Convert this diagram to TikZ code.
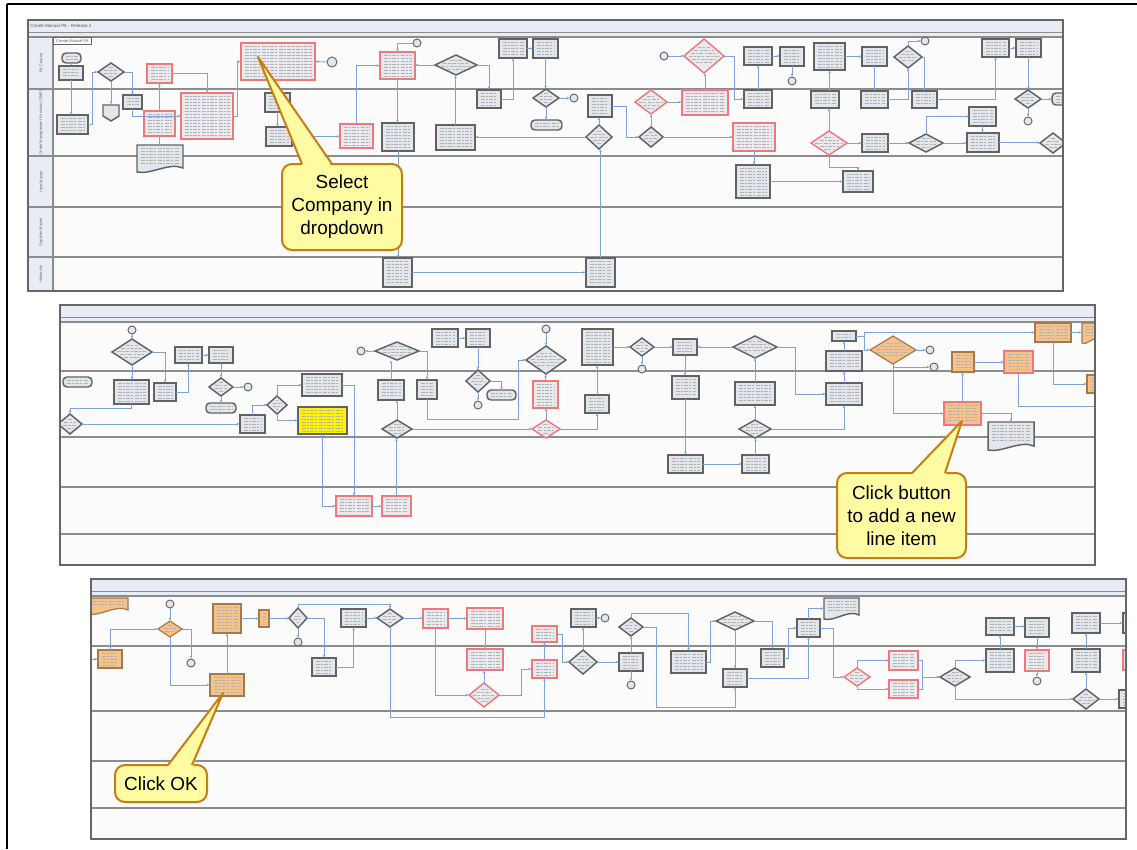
\documentclass[tikz,border=0pt]{standalone}
\usepackage{fontspec}
\setmainfont{Liberation Sans}
\usetikzlibrary{shapes.geometric,arrows.meta,calc}
\definecolor{boxfill}{HTML}{E3E6ED}
\definecolor{boxdraw}{HTML}{626262}
\definecolor{redd}{HTML}{F07878}
\definecolor{redfill}{HTML}{E9EAF0}
\definecolor{orfill}{HTML}{F5C28C}
\definecolor{ordraw}{HTML}{A87848}
\definecolor{connc}{HTML}{7FA2DA}
\definecolor{lanec}{HTML}{8C8C8C}
\definecolor{panelbg}{HTML}{FBFBFB}
\definecolor{titlebg}{HTML}{E7ECF5}
\definecolor{calfill}{HTML}{FFFBA3}
\definecolor{caldraw}{HTML}{C77D12}
\tikzset{
  pbox/.style={draw=boxdraw, fill=boxfill, line width=1.1pt, inner sep=0pt, outer sep=0pt},
  rbox/.style={draw=redd, fill=redfill, line width=1.1pt, inner sep=0pt, outer sep=0pt},
  obox/.style={draw=ordraw, fill=orfill, line width=0.9pt, inner sep=0pt, outer sep=0pt},
  orbox/.style={draw=redd, fill=orfill, line width=1pt, inner sep=0pt, outer sep=0pt},
  ybox/.style={draw=boxdraw, fill=yellow, line width=0.9pt, inner sep=0pt, outer sep=0pt},
  tmbox/.style={pbox, rounded corners=3pt},
  circ/.style={circle, draw=boxdraw, fill=boxfill, line width=0.7pt, inner sep=0pt, outer sep=0pt},
  txl/.style={black!30, line width=0.4pt, dash pattern=on 3pt off 0.9pt on 1.6pt off 0.9pt},
  conn/.style={draw=connc, line width=0.65pt, -{Latex[length=2.4pt,width=2pt]}},
  connp/.style={draw=connc, line width=0.65pt},
  lanel/.style={lanec, line width=1.2pt},
  paneledge/.style={draw=black!60, line width=0.9pt},
  lanelbl/.style={rotate=90, font=\fontsize{3}{3.6}\selectfont, text=black!60, inner sep=0pt},
  caltext/.style={align=center, font=\fontsize{14.2}{17.3}\selectfont, inner sep=0pt, text=black},
  calbox/.style={draw=caldraw, fill=calfill, line width=1.5pt, rounded corners=7.5pt},
}
\newcommand\BX[6]{%
  \node[#6, minimum width={(#4-#2)*0.75pt}, minimum height={(#5-#3)*0.75pt}] (#1) at ({(#2+#4)/2},{(#3+#5)/2}) {};
  \pgfmathsetmacro\tya{#3+3.5}\pgfmathsetmacro\tyb{#3+6.5}\pgfmathsetmacro\tyc{#5-2.5}%
  \foreach \yy in {\tya,\tyb,...,\tyc}{\draw[txl] ({#2+3.5},\yy) -- ({#4-3.5},\yy);}%
}
\newcommand\DM[6]{%
  \node[#6, diamond, minimum width={2*#4*0.75pt}, minimum height={2*#5*0.75pt}] (#1) at (#2,#3) {};
  \pgfmathsetmacro\tda{-0.5*#5}\pgfmathsetmacro\tdb{\tda+3}\pgfmathsetmacro\tdc{0.5*#5+0.1}%
  \foreach \dd in {\tda,\tdb,...,\tdc}{\pgfmathsetmacro\tdhl{#4*(1-abs(\dd)/#5)-4}\draw[txl] ({#2-\tdhl},{#3+\dd}) -- ({#2+\tdhl},{#3+\dd});}%
}
\newcommand\CI[4]{\node[circ, minimum size={2*#4*0.75pt}] (#1) at (#2,#3) {};}
\newcommand\DOC[6]{%
  \node[inner sep=0pt, outer sep=0pt, minimum width={(#4-#2)*0.75pt}, minimum height={(#5-#3)*0.75pt}] (#1) at ({(#2+#4)/2},{(#3+#5)/2}) {};
  \draw[#6] (#2,#3) -- (#4,#3) -- ({#4},{#5-4}) .. controls ({#2+0.7*(#4-#2)},{#5-10}) and ({#2+0.3*(#4-#2)},{#5+3}) .. (#2,#5) -- cycle;
  \pgfmathsetmacro\tya{#3+3.5}\pgfmathsetmacro\tyb{#3+6.5}\pgfmathsetmacro\tyc{#5-7}%
  \foreach \yy in {\tya,\tyb,...,\tyc}{\draw[txl] ({#2+3.5},\yy) -- ({#4-3.5},\yy);}%
}
\begin{document}
\begin{tikzpicture}[x=0.75pt,y=-0.75pt]
\useasboundingbox (0,0) rectangle (1137,849);
\fill[white] (0,0) rectangle (1137,849);
\draw[black, line width=0.8pt] (7,4) -- (1137,4);
\draw[black, line width=0.8pt] (7,4) -- (7,849);

% ================= PANEL 1 =================
\fill[panelbg] (28,20) rectangle (1063,291);
\fill[titlebg] (28,20) rectangle (1063,37);
\fill[titlebg] (28,37) rectangle (53,291);
\draw[lanec, line width=0.7pt] (28,32) -- (1063,32);
\foreach \ly in {37,89,156,207,257} \draw[lanel] (28,\ly) -- (1063,\ly);
\draw[lanec, line width=0.8pt] (53,37) -- (53,291);
\node[anchor=west, font=\fontsize{3.4}{4}\selectfont, text=black!65, inner sep=0pt] (t1) at (30,26) {Create Manual PA - Release 2};
\node[lanelbl] (ln1) at (41,63) {PA Creator};
\node[lanelbl] (ln2) at (41,122.5) {Order Management Function (OMF)};
\node[lanelbl] (ln3) at (41,181.5) {Item Master};
\node[lanelbl] (ln4) at (41,232) {Supplier Master};
\node[lanelbl] (ln5) at (41,274) {Hierarchy};
\node[draw=black!60, fill=white, line width=0.5pt, anchor=north west, minimum width=38*0.75pt, minimum height=7*0.75pt, inner sep=0pt, font=\fontsize{3}{3.5}\selectfont, text=black!65] (tab1) at (53,37) {Create Manual PA};

\begin{scope}
\clip (28,37) rectangle (1063,291);
\BX{a1}{62}{53}{81}{63}{tmbox}
\BX{a2}{59}{66}{83}{80}{pbox}
\BX{a3}{57}{115}{88}{134}{pbox}
\DM{a4}{111}{72}{13}{9}{pbox}
\BX{a5}{123}{95}{142}{109}{pbox}
\node[inner sep=0pt, minimum size=12pt] (a6) at (111,113) {};
\draw[pbox] (103,105) -- (119,105) -- (119,116) -- (111,121) -- (103,116) -- cycle;
\BX{a7}{147}{64}{172}{83}{rbox}
\BX{a8}{144}{111}{175}{136}{rbox}
\DOC{a9}{137}{145}{183}{172}{pbox}
\BX{a10}{181}{93}{233}{139}{rbox}
\BX{a11}{241}{43}{315}{80}{rbox}
\CI{a12}{332}{62}{5}
\BX{a13}{265}{93}{290}{112}{pbox}
\BX{a14}{266}{127}{292}{146}{pbox}
\BX{a15}{340}{124}{373}{148}{rbox}
\BX{a16}{380}{52}{415}{79}{rbox}
\CI{a17}{417}{43}{4}
\DM{a18}{456}{65}{21}{10}{pbox}
\BX{a19}{499}{39}{527}{58}{pbox}
\BX{a20}{533}{39}{558}{58}{pbox}
\BX{a21}{477}{90}{501}{108}{pbox}
\DM{a22}{546}{98}{13}{9}{pbox}
\CI{a23}{574}{98}{4}
\BX{a24}{531}{120}{562}{130}{tmbox}
\BX{a25}{382}{123}{414}{151}{pbox}
\BX{a26}{436}{125}{475}{150}{pbox}
\BX{a27}{588}{95}{612}{117}{pbox}
\DM{a28}{599}{137}{13}{12}{pbox}
\DM{a29}{651}{102}{16}{12}{rbox}
\DM{a30}{651}{137}{12}{10}{pbox}
\CI{a31}{664}{56}{4}
\DM{a32}{704}{56}{20}{17}{rbox}
\BX{a33}{682}{90}{728}{115}{rbox}
\BX{a34}{733}{123}{775}{151}{rbox}
\BX{a35}{744}{47}{772}{65}{pbox}
\BX{a36}{744}{90}{772}{108}{pbox}
\BX{a37}{736}{165}{770}{198}{pbox}
\BX{a38}{383}{258}{412}{287}{pbox}
\BX{a39}{586}{258}{615}{287}{pbox}
\BX{a40}{780}{47}{804}{66}{pbox}
\CI{a41}{792}{81}{4}
\BX{a42}{814}{43}{845}{70}{pbox}
\BX{a43}{862}{47}{887}{66}{pbox}
\DM{a44}{908}{57}{14}{11}{pbox}
\CI{a45}{925}{41}{4}
\BX{a46}{982}{39}{1009}{57}{pbox}
\BX{a47}{1016}{39}{1041}{57}{pbox}
\BX{a48}{811}{91}{839}{108}{pbox}
\BX{a49}{861}{91}{888}{108}{pbox}
\BX{a50}{912}{91}{937}{108}{pbox}
\DM{a51}{1028}{99}{13}{9}{pbox}
\BX{a52}{1052}{93}{1072}{105}{tmbox}
\CI{a53}{1028}{121}{4}
\DM{a54}{829}{143}{18}{12}{rbox}
\BX{a55}{862}{134}{888}{152}{pbox}
\DM{a56}{926}{143}{17}{9}{pbox}
\BX{a57}{969}{107}{996}{126}{pbox}
\BX{a58}{967}{133}{999}{152}{pbox}
\DM{a59}{1053}{143}{13}{10}{pbox}
\BX{a60}{843}{171}{873}{192}{pbox}

\draw[conn] (a1.south) -- (a1.south |- a2.north);
\draw[conn] (a2.south) -- (a2.south |- a3.north);
\draw[conn] (a3.east) -- ++(4,0) |- (a4.west);
\draw[conn] (a4.south) -- (a4.south |- a6.north);
\draw[conn] (a4.east) -| (a5.north);
\draw[conn] (a5.south) |- (a10.west);
\draw[conn] (a8.north) -- (a8.north |- a7.south);
\draw[conn] (a7.east) -| (a10.north);
\draw[connp] (a8.south) -- (a8.south |- a9.north);
\draw[conn] (a10.east) -- ++(4,0) |- (a11.west);
\draw[conn] (a12.west) -- (a11.east);
\draw[conn] (a13.south) -- (a13.south |- a14.north);
\draw[conn] (a14.east) -- (a14.east -| a15.west);
\draw[conn] (a15.north) |- (a16.west);
\draw[conn] (a17.west) -| (a16.north);
\draw[conn] (a18.west) -- (a18.west -| a16.east);
\draw[conn] (a18.east) -| (a21.north);
\draw[conn] (a21.east) -| (a19.south);
\draw[conn] (a19.east) -- (a19.east -| a20.west);
\draw[conn] (a20.south) -- (a20.south |- a22.north);
\draw[conn] (a22.east) -- (a23.west);
\draw[conn] (a22.south) -- (a22.south |- a24.north);
\draw[conn] (a16.south) -- (a16.south |- a25.north);
\draw[conn] (a25.south) -- (a25.south |- a38.north);
\draw[conn] (a38.east) -- (a38.east -| a39.west);
\draw[conn] (a39.north) -- (a39.north |- a28.south);
\draw[conn] (a28.west) -- (a28.west -| a26.east);
\draw[conn] (a26.north) -- (a26.north |- a18.south);
\draw[conn] (a28.north) -- (a28.north |- a27.south);
\draw[conn] (a27.east) -- ++(14,0) |- (a30.west);
\draw[conn] (a30.north) -- (a30.north |- a29.south);
\draw[conn] (a29.east) -- (a29.east -| a33.west);
\draw[conn] (a30.east) -- (a30.east -| a34.west);
\draw[conn] (a33.north) -- (a33.north |- a32.south);
\draw[conn] (a31.east) -- (a32.west);
\draw[conn] (a32.east) -| ($(a36.west)+(-10,0)$) -- (a36.west);
\draw[conn] (a36.north) -- (a36.north |- a35.south);
\draw[conn] (a35.east) -- (a35.east -| a40.west);
\draw[conn] (a40.south) -- (a41.north);
\draw[conn] (a34.south) -- (a34.south |- a37.north);
\draw[conn] (a37.east) -- (a37.east -| a60.west);
\draw[conn] (a54.south) -- ++(0,12) -| (a60.north);
\draw[conn] (a54.north) -- (a54.north |- a48.south);
\draw[conn] (a48.north -| a42.south) -- (a42.south);
\draw[conn] (a42.east) -- (a42.east -| a43.west);
\draw[conn] (a43.south) -- (a43.south |- a49.north);
\draw[conn] (a49.east) -| (a44.south);
\draw[conn] (a44.north) |- (a45.west);
\draw[conn] (a44.east) -| (a50.north);
\draw[conn] (a50.east) -| (a46.south);
\draw[conn] (a46.east) -- (a46.east -| a47.west);
\draw[conn] (a47.south) -- (a47.south |- a51.north);
\draw[conn] (a51.east) -- (a52.west);
\draw[conn] (a51.south) -- (a53.north);
\draw[conn] (a54.east) -- (a54.east -| a55.west);
\draw[conn] (a55.east) -- (a55.east -| a56.west);
\draw[conn] (a56.north) |- (a57.west);
\draw[conn] (a57.south) -- (a57.south |- a58.north);
\draw[conn] (a56.east) -- (a56.east -| a58.west);
\draw[conn] (a58.east) -- (a58.east -| a59.west);
\end{scope}
\draw[paneledge] (28,20) rectangle (1063,291);

% ================= PANEL 2 =================
\fill[panelbg] (60,305) rectangle (1095,565);
\fill[titlebg] (60,305) rectangle (1095,322);
\draw[lanec, line width=0.7pt] (60,317) -- (1095,317);
\foreach \ly in {322,371,437,487,534} \draw[lanel] (60,\ly) -- (1095,\ly);
\begin{scope}
\clip (60,322) rectangle (1095,565);
\CI{b1}{132}{330}{4}
\DM{b2}{132}{352}{20}{13}{pbox}
\BX{b3}{175}{347}{202}{363}{pbox}
\BX{b4}{209}{347}{233}{363}{pbox}
\BX{b5}{63}{377}{92}{387}{tmbox}
\BX{b6}{114}{380}{149}{404}{pbox}
\BX{b7}{154}{383}{176}{401}{pbox}
\DM{b8}{221}{387}{12}{9}{pbox}
\CI{b9}{248}{387}{4}
\BX{b10}{206}{403}{236}{413}{tmbox}
\DM{b11}{70}{424}{12}{10}{pbox}
\BX{b12}{240}{415}{265}{433}{pbox}
\DM{b13}{277}{405}{10}{9}{pbox}
\BX{b14}{302}{374}{342}{396}{pbox}
\BX{b15}{298}{407}{347}{434}{ybox}
\BX{b16}{336}{496}{372}{516}{rbox}
\BX{b17}{382}{496}{411}{516}{rbox}
\CI{b18}{361}{351}{4}
\DM{b19}{397}{351}{22}{9}{pbox}
\BX{b20}{378}{380}{404}{400}{pbox}
\BX{b21}{417}{380}{437}{399}{pbox}
\DM{b22}{397}{429}{15}{9}{pbox}
\BX{b23}{432}{329}{458}{347}{pbox}
\BX{b24}{466}{329}{490}{347}{pbox}
\DM{b25}{478}{381}{12}{11}{pbox}
\BX{b26}{487}{390}{516}{400}{tmbox}
\CI{b27}{478}{405}{4}
\CI{b28}{546}{329}{4}
\DM{b29}{546}{360}{20}{14}{pbox}
\BX{b30}{533}{381}{558}{408}{rbox}
\DM{b31}{546}{429}{14}{9}{rbox}
\BX{b32}{582}{329}{613}{365}{pbox}
\BX{b33}{585}{395}{609}{413}{pbox}
\DM{b34}{642}{347}{12}{9}{pbox}
\CI{b35}{642}{369}{4}
\BX{b36}{673}{339}{697}{355}{pbox}
\DM{b37}{755}{347}{22}{11}{pbox}
\BX{b38}{672}{376}{699}{399}{pbox}
\BX{b39}{735}{382}{775}{405}{pbox}
\DM{b40}{755}{429}{16}{9}{pbox}
\BX{b41}{668}{455}{703}{473}{pbox}
\BX{b42}{742}{455}{769}{473}{pbox}
\BX{b43}{832}{331}{856}{341}{pbox}
\BX{b44}{826}{351}{862}{371}{pbox}
\BX{b45}{826}{383}{862}{405}{pbox}
\DM{b46}{893}{350}{23}{14}{obox}
\CI{b47}{930}{350}{4}
\CI{b48}{934}{367}{4}
\BX{b49}{952}{352}{974}{372}{obox}
\BX{b50}{1004}{351}{1033}{373}{orbox}
\BX{b51}{1035}{323}{1071}{342}{obox}
\DOC{b52}{1082}{323}{1102}{343}{obox}
\BX{b53}{1087}{375}{1102}{393}{obox}
\BX{b54}{944}{402}{981}{425}{orbox}
\DOC{b55}{988}{422}{1034}{450}{pbox}

\draw[conn] (b1.south) -- (b2.north);
\draw[conn] (b2.east) -| (b7.north);
\draw[conn] (b2.south) -- (b2.south |- b6.north);
\draw[conn] (b7.east) -| (b3.south);
\draw[conn] (b3.east) -- (b3.east -| b4.west);
\draw[conn] (b4.south) -- (b4.south |- b8.north);
\draw[conn] (b8.east) -- (b9.west);
\draw[conn] (b8.south) -- (b8.south |- b10.north);
\draw[conn] (b6.south) -- ++(0,4) -| (b11.north);
\draw[conn] (b11.east) -- (b11.east -| b12.west);
\draw[conn] (b12.north) |- (b13.west);
\draw[conn] (b13.north) |- (b14.west);
\draw[conn] (b13.south) |- (b15.west);
\draw[conn] (b15.south) |- (b16.west);
\draw[conn] (b14.east) -| (b16.north);
\draw[conn] (b16.east) -- (b16.east -| b17.west);
\draw[conn] (b17.north) -- (b17.north |- b22.south);
\draw[conn] (b22.north) -- (b22.north |- b20.south);
\draw[conn] (b20.north) -- (b20.north |- b19.south);
\draw[conn] (b19.west) -- (b18.east);
\draw[conn] (b19.east) -| (b21.north);
\coordinate (b21r) at (518,419);
\draw[conn] (b21.south) |- (b21r) |- (b29.west);
\draw[conn] (b22.east) -- (b22.east -| b31.west);
\draw[conn] (b23.east) -- (b23.east -| b24.west);
\draw[conn] (b24.south) -- (b24.south |- b25.north);
\draw[conn] (b25.east) -| (b26.north);
\draw[conn] (b25.south) -- (b27.north);
\draw[conn] (b28.south) -- (b29.north);
\draw[conn] (b31.north) -- (b31.north |- b30.south);
\draw[conn] (b30.north) -- (b30.north |- b29.south);
\draw[conn] (b31.east) -| (b33.south);
\draw[conn] (b33.north) -- (b33.north |- b32.south);
\draw[conn] (b32.east) -- (b32.east -| b34.west);
\draw[conn] (b34.south) -- (b35.north);
\draw[conn] (b34.east) -- (b34.east -| b36.west);
\draw[conn] (b36.south) -- (b36.south |- b38.north);
\draw[conn] (b38.south) -- (b38.south |- b41.north);
\draw[conn] (b41.east) -- (b41.east -| b42.west);
\draw[conn] (b42.north) -- (b42.north |- b40.south);
\draw[conn] (b40.north) -- (b40.north |- b39.south);
\draw[conn] (b39.north) -- (b39.north |- b37.south);
\draw[conn] (b37.west) -- (b37.west -| b36.east);
\draw[conn] (b37.east) -- ++(18,0) |- (b45.west);
\draw[conn] (b40.east) -| (b45.south);
\draw[conn] (b45.north) -- (b45.north |- b44.south);
\draw[conn] (b44.north) -- (b44.north |- b43.south);
\draw[conn] (b43.east) -- ++(8,0) |- (b46.west);
\draw[conn] (b43.east) -- ++(8,0) |- (b51.west);
\draw[conn] (b46.east) -- (b47.west);
\draw[conn] (b46.south |- b48.west) -- (b48.west);
\draw[conn] (b46.south) |- (b54.west);
\draw[conn] (b54.north) -- (b54.north |- b49.south);
\draw[conn] (b49.east) -- (b49.east -| b50.west);
\coordinate (b50r) at (1100,406);
\draw[connp] (b50.south) |- (b50r);
\draw[conn] (b51.east) -- (b51.east -| b52.west);
\draw[conn] (b51.south) |- (b53.west);
\draw[conn] (b54.east) -| (b55.north);
\end{scope}
\draw[paneledge] (60,305) rectangle (1095,565);

% ================= PANEL 3 =================
\fill[panelbg] (91,579) rectangle (1126,839);
\fill[titlebg] (91,579) rectangle (1126,596);
\draw[lanec, line width=0.7pt] (91,591) -- (1126,591);
\foreach \ly in {596,646,711,761,808} \draw[lanel] (91,\ly) -- (1126,\ly);
\begin{scope}
\clip (91,596) rectangle (1126,839);
\DOC{c1}{88}{598}{128}{614}{obox}
\CI{c2}{170}{604}{4}
\DM{c3}{170}{629}{12}{8}{obox}
\CI{c4}{191}{663}{4}
\BX{c5}{98}{650}{122}{668}{obox}
\BX{c6}{213}{604}{241}{633}{obox}
\BX{c7}{259}{610}{269}{627}{obox}
\DM{c8}{298}{618}{9}{10}{pbox}
\CI{c9}{298}{642}{4}
\BX{c10}{341}{609}{366}{627}{pbox}
\DM{c11}{390}{618}{13}{9}{pbox}
\BX{c12}{312}{658}{336}{676}{pbox}
\BX{c13}{210}{674}{244}{696}{obox}
\BX{c14}{423}{609}{448}{628}{rbox}
\BX{c15}{467}{608}{503}{629}{rbox}
\BX{c16}{467}{649}{503}{670}{rbox}
\DM{c17}{484}{695}{15}{12}{rbox}
\BX{c18}{532}{626}{557}{642}{rbox}
\BX{c19}{532}{660}{557}{678}{rbox}
\DM{c20}{583}{662}{14}{12}{pbox}
\BX{c21}{571}{609}{596}{627}{pbox}
\CI{c22}{605}{618}{4}
\DM{c23}{631}{627}{12}{9}{pbox}
\BX{c24}{619}{653}{643}{671}{pbox}
\CI{c25}{631}{685}{4}
\BX{c26}{671}{651}{706}{673}{pbox}
\DM{c27}{735}{621}{19}{9}{pbox}
\BX{c28}{723}{669}{747}{687}{pbox}
\BX{c29}{761}{649}{784}{667}{pbox}
\BX{c30}{797}{619}{820}{637}{pbox}
\DOC{c31}{824}{598}{859}{619}{pbox}
\DM{c32}{857}{677}{13}{9}{rbox}
\BX{c33}{889}{651}{918}{670}{rbox}
\BX{c34}{889}{680}{918}{698}{rbox}
\DM{c35}{955}{677}{15}{9}{pbox}
\BX{c36}{986}{618}{1014}{635}{pbox}
\BX{c37}{1025}{618}{1049}{637}{pbox}
\BX{c38}{986}{649}{1014}{672}{pbox}
\BX{c39}{1025}{650}{1049}{671}{rbox}
\CI{c40}{1037}{681}{4}
\BX{c41}{1072}{613}{1100}{633}{pbox}
\BX{c42}{1072}{649}{1100}{672}{pbox}
\DM{c43}{1086}{699}{13}{10}{pbox}
\BX{c44}{1123}{613}{1140}{633}{pbox}
\BX{c45}{1123}{650}{1140}{670}{rbox}
\BX{c46}{1119}{690}{1140}{708}{pbox}

\coordinate (c5in) at (91,659);
\draw[conn] (c5in) -- (c5.west);
\draw[conn] (c5.north) |- (c3.west);
\draw[conn] (c2.south) -- (c3.north);
\draw[conn] (c3.east) -| (c4.north);
\draw[conn] (c3.south) |- (c13.west);
\draw[conn] (c13.north) -- (c13.north |- c6.south);
\draw[conn] (c6.east) -- (c6.east -| c7.west);
\draw[conn] (c7.east) -- (c7.east -| c8.west);
\draw[conn] (c8.south) -- (c9.north);
\draw[conn] (c8.east) -| (c12.north);
\draw[conn] (c12.east) -| (c10.south);
\draw[conn] (c8.north) -- ++(0,-4) -| (c11.north);
\draw[conn] (c10.east) -- (c10.east -| c11.west);
\draw[conn] (c11.east) -- (c11.east -| c14.west);
\draw[conn] (c11.south) -- ++(0,90) -| (c19.south);
\draw[conn] (c14.east) -- (c14.east -| c15.west);
\draw[conn] (c15.south) -- (c15.south |- c16.north);
\draw[conn] (c14.south) |- (c17.west);
\draw[conn] (c17.north) -- (c17.north |- c16.south);
\draw[conn] (c17.east) -- ++(22,0) |- (c19.west);
\draw[conn] (c19.north) -- (c19.north |- c18.south);
\draw[conn] (c18.east) -- ++(5,0) |- (c20.west);
\draw[conn] (c20.north) -- (c20.north |- c21.south);
\draw[conn] (c21.east) -- (c22.west);
\draw[conn] (c20.east) -- (c20.east -| c24.west);
\draw[conn] (c24.north) -- (c24.north |- c23.south);
\draw[conn] (c24.south) -- (c25.north);
\draw[conn] (c23.east) -- ++(13,0) |- ($(c28.south)+(0,20)$) -- (c28.south);
\draw[conn] (c23.north) -- ++(0,-5) -| (c26.north);
\draw[conn] (c26.east) -- ++(4,0) |- (c27.west);
\draw[conn] (c27.south) -- (c27.south |- c28.north);
\draw[conn] (c28.east) -| (c30.south);
\draw[conn] (c27.east) -| (c29.north);
\draw[conn] (c29.east) -- ++(4,0) |- (c30.west);
\draw[conn] (c30.north) |- (c31.west);
\draw[conn] (c30.east) -- ++(13,0) |- (c32.west);
\draw[conn] (c32.north) |- (c33.west);
\draw[conn] (c32.south) |- (c34.west);
\draw[conn] (c33.east) -- ++(4,0) |- (c35.west);
\draw[conn] (c34.east) -- ++(4,0) |- (c35.west);
\draw[conn] (c35.north) |- (c38.west);
\draw[conn] (c38.north) -- (c38.north |- c36.south);
\draw[conn] (c36.east) -- (c36.east -| c37.west);
\draw[conn] (c37.south) -- (c37.south |- c39.north);
\draw[conn] (c39.south) -- (c40.north);
\draw[conn] (c35.south) |- (c43.west);
\draw[conn] (c43.north) -- (c43.north |- c42.south);
\draw[conn] (c42.north) -- (c42.north |- c41.south);
\draw[conn] (c41.east) -- (c41.east -| c44.west);
\draw[conn] (c43.east) -- (c43.east -| c46.west);
\end{scope}
\draw[paneledge] (91,579) rectangle (1126,839);

% ================= CALLOUTS =================
\draw[calbox] (282,164) rectangle (402,250);
\fill[calfill] (302.6,166) -- (258,57) -- (331.4,166) -- cycle;
\draw[caldraw, line width=1.5pt, line join=round] (302,164) -- (258,57) -- (332,164);
\node[caltext] (call1) at (342,207) {Select\\Company in\\dropdown};

\draw[calbox] (837,473) rectangle (966,558);
\fill[calfill] (911.5,475) -- (962,421) -- (945.5,475) -- cycle;
\draw[caldraw, line width=1.5pt, line join=round] (912,473) -- (962,421) -- (945,473);
\node[caltext] (call2) at (901.5,515.5) {Click button\\to add a new\\line item};

\draw[calbox] (115,765) rectangle (207,802);
\fill[calfill] (167.3,767) -- (223,693) -- (192.8,767) -- cycle;
\draw[caldraw, line width=1.5pt, line join=round] (168,765) -- (223,693) -- (192,765);
\node[caltext] (call3) at (161,783.5) {Click OK};
\end{tikzpicture}
\end{document}
